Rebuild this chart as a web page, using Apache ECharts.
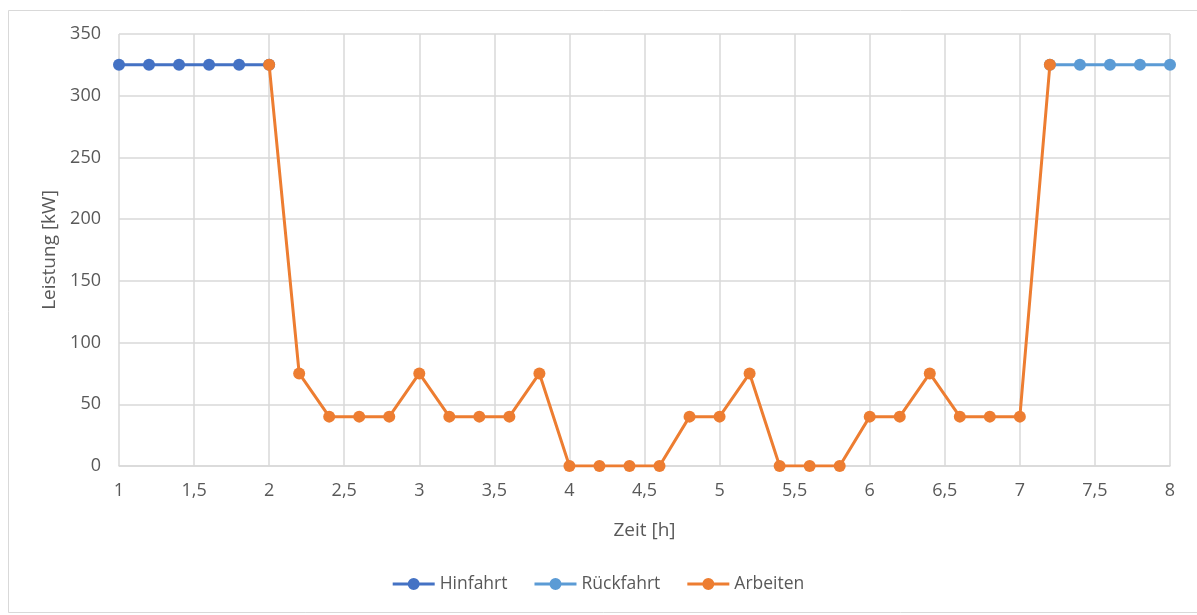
<!DOCTYPE html>
<html>
<head>
<meta charset="utf-8">
<script src="https://cdn.jsdelivr.net/npm/echarts@6/dist/echarts.min.js"></script>
<style>
    html, body { margin: 0; padding: 0; background: #fff; }
    #chart { width: 1197px; height: 615px; }
</style>
</head>
<body>
<div id="chart"></div>
<script>
// Zeitpunkte [h] und Leistung [kW]
const hinfahrtZeit = [1, 1.2, 1.4, 1.6, 1.8, 2];
const hinfahrtLeistung = [325, 325, 325, 325, 325, 325];

const rueckfahrtZeit = [7.2, 7.4, 7.6, 7.8, 8];
const rueckfahrtLeistung = [325, 325, 325, 325, 325];

const arbeitenZeit = [2, 2.2, 2.4, 2.6, 2.8, 3, 3.2, 3.4, 3.6, 3.8, 4, 4.2, 4.4, 4.6, 4.8,
    5, 5.2, 5.4, 5.6, 5.8, 6, 6.2, 6.4, 6.6, 6.8, 7, 7.2];
const arbeitenLeistung = [325, 75, 40, 40, 40, 75, 40, 40, 40, 75, 0, 0, 0, 0, 40,
    40, 75, 0, 0, 0, 40, 40, 75, 40, 40, 40, 325];

const FONT = '"Open Sans", Lato, sans-serif';
const TEXT_COLOR = '#595959';
const GRID_COLOR = '#d9d9d9';

function pairs(xs, ys) {
    return xs.map((x, i) => [x, ys[i]]);
}

function lineSeries(name, color, data, z) {
    return {
        name: name,
        type: 'line',
        data: data,
        z: z,
        symbol: 'circle',
        symbolSize: 12,
        lineStyle: { color: color, width: 3 },
        itemStyle: { color: color },
        animation: false
    };
}

const chart = echarts.init(document.getElementById('chart'));

const option = {
    backgroundColor: '#fff',
    textStyle: { fontFamily: FONT },
    graphic: [{
        type: 'rect',
        shape: { x: 8.5, y: 10.5, width: 1200, height: 602 },
        style: { fill: null, stroke: GRID_COLOR, lineWidth: 1 },
        silent: true
    }],
    grid: {
        left: 119,
        right: 27,
        top: 34,
        bottom: 149
    },
    legend: {
        bottom: 17,
        left: 'center',
        itemWidth: 42,
        itemHeight: 12,
        itemGap: 27,
        // Linie mit Punkt in der Mitte, wie im Excel-Diagramm
        icon: 'path://M0,4.6h16v2.8H0z M26,4.6h16v2.8H26z M21,0a6,6 0 1,1 -0.01,0z',
        textStyle: { color: TEXT_COLOR, fontSize: 17.5, fontFamily: FONT },
        data: ['Hinfahrt', 'Rückfahrt', 'Arbeiten']
    },
    xAxis: {
        type: 'value',
        min: 1,
        max: 8,
        interval: 0.5,
        name: 'Zeit [h]',
        nameLocation: 'middle',
        nameGap: 55,
        nameTextStyle: { color: TEXT_COLOR, fontSize: 19, fontFamily: FONT },
        axisLine: { show: true, lineStyle: { color: GRID_COLOR, width: 1.5 } },
        axisTick: { show: false },
        axisLabel: {
            color: TEXT_COLOR,
            fontSize: 18,
            margin: 16,
            formatter: v => String(v).replace('.', ',')
        },
        splitLine: { show: true, lineStyle: { color: GRID_COLOR, width: 1.5 } }
    },
    yAxis: {
        type: 'value',
        min: 0,
        max: 350,
        interval: 50,
        name: 'Leistung [kW]',
        nameLocation: 'middle',
        nameGap: 56,
        nameTextStyle: { color: TEXT_COLOR, fontSize: 19, fontFamily: FONT },
        axisLine: { show: false },
        axisTick: { show: false },
        axisLabel: { color: TEXT_COLOR, fontSize: 18, margin: 18 },
        splitLine: { show: true, lineStyle: { color: GRID_COLOR, width: 1.5 } }
    },
    series: [
        lineSeries('Hinfahrt', '#4472c4', pairs(hinfahrtZeit, hinfahrtLeistung), 2),
        lineSeries('Rückfahrt', '#5b9bd5', pairs(rueckfahrtZeit, rueckfahrtLeistung), 2),
        lineSeries('Arbeiten', '#ed7d31', pairs(arbeitenZeit, arbeitenLeistung), 3)
    ]
};

chart.setOption(option);
</script>
</body>
</html>
